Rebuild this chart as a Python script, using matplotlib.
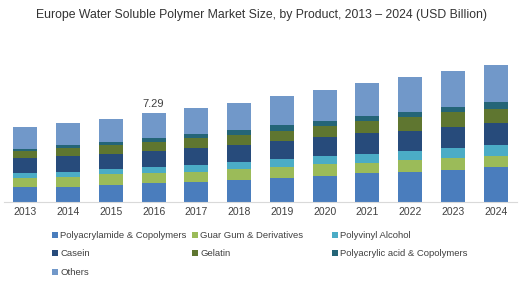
import matplotlib
matplotlib.use("Agg")
import matplotlib.pyplot as plt
import numpy as np

plt.rcParams['font.family'] = ['Liberation Sans', 'DejaVu Sans']

# data (USD Billion)
years = ['2013', '2014', '2015', '2016', '2017', '2018',
         '2019', '2020', '2021', '2022', '2023', '2024']
polyacrylamide = [1.23, 1.23, 1.37, 1.56, 1.65, 1.79, 1.93, 2.12, 2.34, 2.47, 2.61, 2.83]
guar_gum = [0.74, 0.82, 0.91, 0.82, 0.82, 0.91, 0.91, 0.96, 0.87, 0.96, 0.96, 0.95]
polyvinyl = [0.36, 0.41, 0.41, 0.49, 0.55, 0.55, 0.68, 0.68, 0.72, 0.77, 0.87, 0.88]
casein = [1.23, 1.29, 1.23, 1.32, 1.37, 1.42, 1.48, 1.54, 1.70, 1.65, 1.73, 1.79]
gelatin = [0.63, 0.63, 0.74, 0.74, 0.82, 0.82, 0.85, 0.93, 1.01, 1.15, 1.19, 1.18]
polyacrylic = [0.14, 0.30, 0.27, 0.28, 0.35, 0.41, 0.47, 0.44, 0.41, 0.41, 0.46, 0.60]
others = [1.84, 1.81, 1.87, 2.08, 2.16, 2.25, 2.39, 2.53, 2.69, 2.83, 2.94, 3.02]

labels = ['Polyacrylamide & Copolymers', 'Guar Gum & Derivatives', 'Polyvinyl Alcohol',
          'Casein', 'Gelatin', 'Polyacrylic acid & Copolymers', 'Others']
colors = ['#4a7dbd', '#9bbb59', '#4bacc6', '#274b7b', '#5f7630', '#246577', '#7198c9']
series = [polyacrylamide, guar_gum, polyvinyl, casein, gelatin, polyacrylic, others]

fig = plt.figure(figsize=(5.22, 2.82), dpi=100)
ax = fig.add_axes([4 / 522, 80.3 / 282, 513 / 522, 145.8 / 282])

x = np.arange(len(years))
bottom = np.zeros(len(years))
bars = []
for vals, lab, col in zip(series, labels, colors):
    b = ax.bar(x, vals, 0.56, bottom=bottom, color=col, label=lab)
    bars.append(b)
    bottom += np.array(vals)

# total label for 2016
ax.text(3, 7.29 + 0.35, '7.29', ha='center', va='bottom', fontsize=8, color='#404040')

ax.set_xlim(-0.5, len(years) - 0.5)
ax.set_ylim(0, 12)
ax.set_xticks(x)
ax.set_xticklabels(years, fontsize=7.5, color='#404040')
ax.tick_params(axis='x', length=0, pad=4)
ax.set_yticks([])
for s in ['top', 'left', 'right']:
    ax.spines[s].set_visible(False)
ax.spines['bottom'].set_color('#d9d9d9')

fig.text(0.5, 1 - 15 / 282, 'Europe Water Soluble Polymer Market Size, by Product, 2013 \u2013 2024 (USD Billion)',
         ha='center', va='center', fontsize=8.8, color='#333333')

# legend: three fixed-width columns
columns = [[0, 3, 6], [1, 4], [2, 5]]
col_x = [52, 192, 332]
for idx, cx in zip(columns, col_x):
    leg = fig.legend([bars[i] for i in idx], [labels[i] for i in idx],
                     loc='upper left', bbox_to_anchor=(cx / 522, 1 - 231 / 282),
                     frameon=False, fontsize=6.8, handlelength=0.6, handleheight=0.6,
                     handletextpad=0.3, labelspacing=1.0, borderpad=0, borderaxespad=0)
    for t in leg.get_texts():
        t.set_color('#404040')

fig.savefig('out.png', dpi=100)
